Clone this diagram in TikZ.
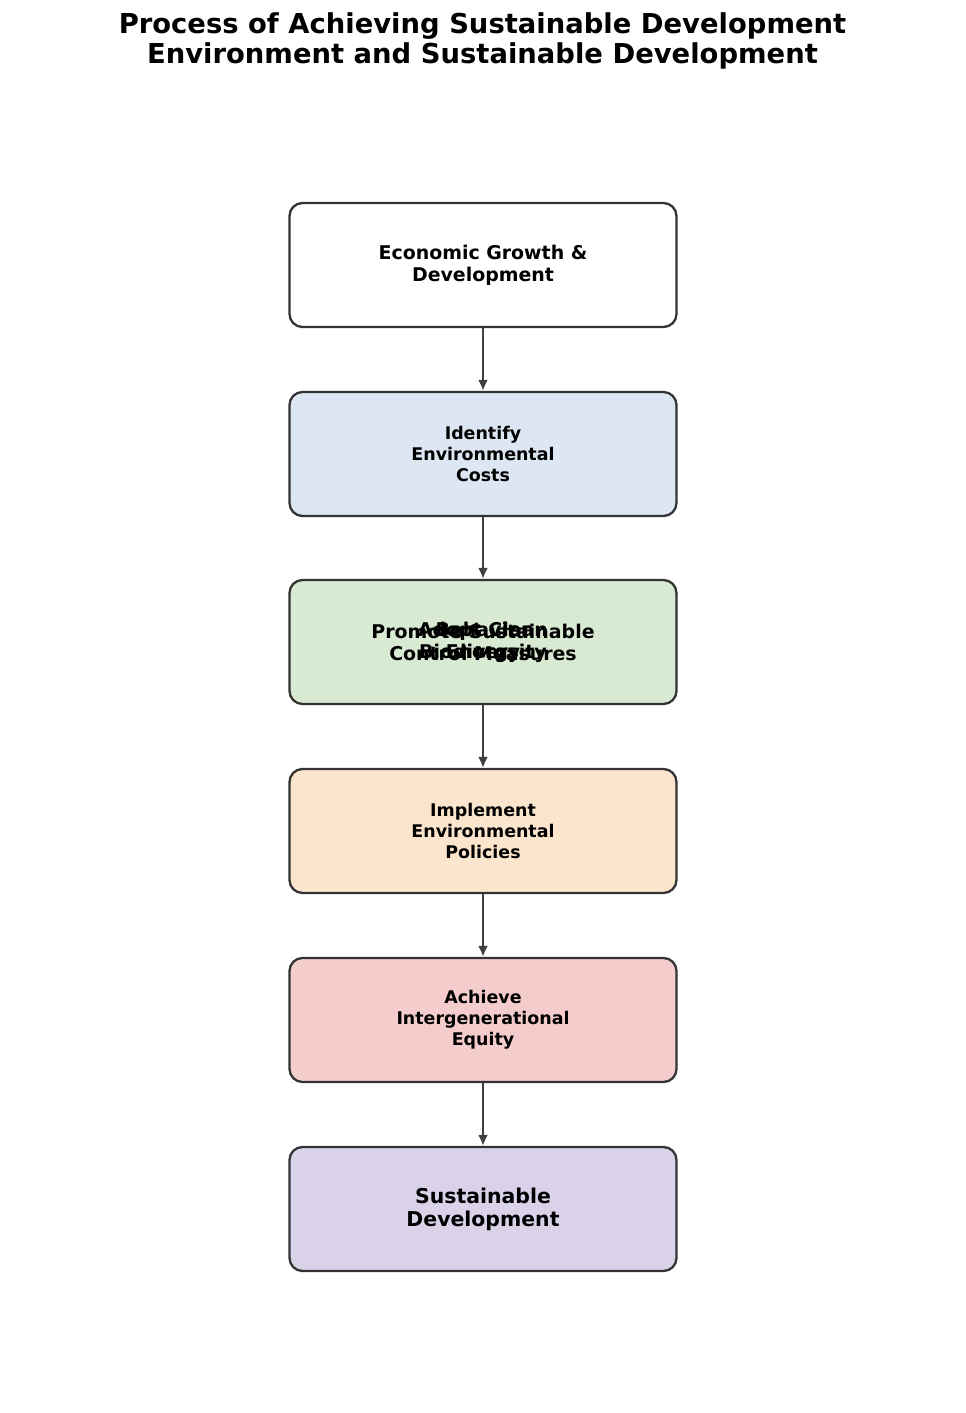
\documentclass[tikz,border=0pt]{standalone}
\usepackage{fontspec}
\setmainfont{DejaVu Sans}
\usetikzlibrary{arrows.meta}
\begin{document}
\begin{tikzpicture}[x=1bp,y=-1bp,
  box/.style={draw=black!80,line width=2.3bp,rounded corners=13bp,minimum width=387bp,minimum height=124bp},
  big/.style={font=\bfseries\fontsize{19}{22}\selectfont,align=center},
  small/.style={font=\bfseries\fontsize{17.5}{21}\selectfont,align=center},
  arr/.style={draw=black!75,line width=2.3bp,-{Latex[length=11bp,width=10bp]}}]
\useasboundingbox (0,0) rectangle (965,1413);
\node[font=\bfseries\fontsize{27.5}{31}\selectfont,align=center] (title) at (482.5,41) {Process of Achieving Sustainable Development\\Environment and Sustainable Development};
\node[box,fill=white] (b1) at (483,265) {};
\node[big] (t1) at (b1) {Economic Growth \&\\Development};
\node[box,fill={rgb,255:red,220;green,231;blue,243}] (b2) at (483,454) {};
\node[small] (t2) at (b2) {Identify\\Environmental\\Costs};
\node[box,fill={rgb,255:red,217;green,234;blue,211}] (b3) at (483,642) {};
\node[big] (t3a) at (b3) {Promote Sustainable\\Control Measures};
\node[big] (t3b) at (b3) {Adopt Clean\\Biodiversity};
\node[big] (t3c) at (b3) {Behavior\\Energy};
\node[box,fill={rgb,255:red,252;green,229;blue,205}] (b4) at (483,831) {};
\node[small] (t4) at (b4) {Implement\\Environmental\\Policies};
\node[box,fill={rgb,255:red,244;green,204;blue,204}] (b5) at (483,1020) {};
\node[small] (t5) at (b5) {Achieve\\Intergenerational\\Equity};
\node[box,fill={rgb,255:red,217;green,210;blue,233}] (b6) at (483,1209) {};
\node[font=\bfseries\fontsize{20.5}{23}\selectfont,align=center] (t6) at (b6) {Sustainable\\Development};
\draw[arr] (b1) -- (b2);
\draw[arr] (b2) -- (b3);
\draw[arr] (b3) -- (b4);
\draw[arr] (b4) -- (b5);
\draw[arr] (b5) -- (b6);
\end{tikzpicture}
\end{document}
